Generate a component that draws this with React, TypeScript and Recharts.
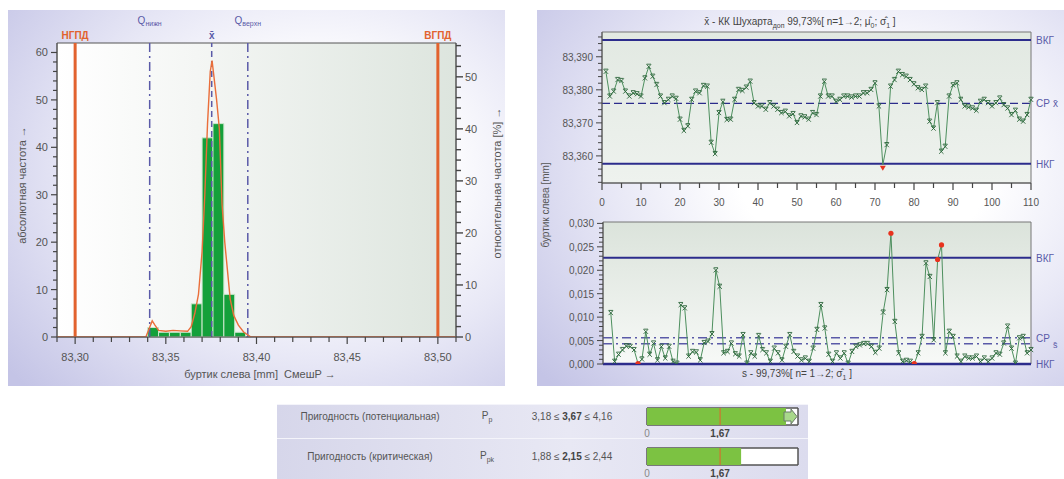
import React from 'react';
import { ComposedChart, LineChart, BarChart, Line, Bar, XAxis, YAxis, ReferenceLine, ReferenceArea } from 'recharts';

const FONT = '"Liberation Sans", Arial, sans-serif';
const TICK = '#555';
const NAVY = '#2c2c8c';
const VIOLET = '#5a5aa8';
const ORANGE = '#e2622e';
const RED = '#e8321e';

// ---- histogram (left panel)
const binStart = [83.340, 83.346, 83.352, 83.358, 83.364, 83.370, 83.376, 83.382, 83.388];
const binEnd = [83.346, 83.352, 83.358, 83.364, 83.370, 83.376, 83.382, 83.388, 83.394];
const binCount = [2, 1, 1, 1, 7, 42, 45, 9, 1];

const densityX = [83.290, 83.339, 83.3405, 83.3425, 83.344, 83.346, 83.350, 83.354, 83.358, 83.362, 83.364, 83.366, 83.368, 83.370, 83.3715, 83.373, 83.3745, 83.3755, 83.3765, 83.378, 83.3795, 83.381, 83.3825, 83.384, 83.3855, 83.3875, 83.390, 83.393, 83.397, 83.510];
const densityY = [0, 0, 1.5, 3.4, 2.5, 1.4, 1.2, 1.4, 1.3, 1.2, 2.2, 5, 9, 18, 30, 45, 56, 58.3, 55, 50, 44, 28, 20, 14, 8, 4.5, 2.5, 1, 0, 0];

const specLow = 83.30;
const specHigh = 83.50;
const qLow = 83.3411;
const qHigh = 83.3952;
const histMean = 83.3753;

const histXTicks = Array.from({ length: 23 }, (_, k) => +(83.29 + k * 0.01).toFixed(2));
const histLeftTicks = Array.from({ length: 31 }, (_, k) => k * 2);
const histRightTicks = Array.from({ length: 29 }, (_, k) => k * 2);

// ---- x-bar chart (top right)
const xbarValues = [
  83.3855, 83.378, 83.3795, 83.383, 83.3827, 83.3795, 83.378, 83.379, 83.3787, 83.378,
  83.3835, 83.387, 83.384, 83.3815, 83.378, 83.376, 83.377, 83.378, 83.3773, 83.371,
  83.3676, 83.369, 83.377, 83.3795, 83.379, 83.3812, 83.381, 83.364, 83.3606, 83.373,
  83.3764, 83.3709, 83.371, 83.377, 83.380, 83.3797, 83.3807, 83.3825, 83.376, 83.375,
  83.375, 83.374, 83.376, 83.375, 83.374, 83.373, 83.3734, 83.372, 83.3727, 83.370,
  83.372, 83.3717, 83.371, 83.373, 83.3724, 83.378, 83.3825, 83.378, 83.378, 83.3764,
  83.377, 83.378, 83.378, 83.3777, 83.378, 83.378, 83.379, 83.379, 83.380, 83.382,
  83.375, 83.3573, 83.3633, 83.381, 83.383, 83.3855, 83.3845, 83.384, 83.383, 83.3817,
  83.3805, 83.380, 83.381, 83.3704, 83.3683, 83.376, 83.3613, 83.3628, 83.378, 83.3814,
  83.382, 83.377, 83.375, 83.3747, 83.3744, 83.3737, 83.3764, 83.377, 83.376, 83.375,
  83.376, 83.3774, 83.3754, 83.3744, 83.3724, 83.3737, 83.371, 83.3704, 83.3724, 83.377,
];
const xbarAlarm = [72];
const xbarUcl = 83.3951;
const xbarCl = 83.3759;
const xbarLcl = 83.3576;

// ---- s chart (bottom right), first value belongs to sample 2
const sValues = [
  0.0109, 0.0005, 0.002, 0.003, 0.0038, 0.0037, 0.003, 0.0001, 0.001, 0.0069,
  0.002, 0.0044, 0.0008, 0.0037, 0.0012, 0.0037, 0.0005, 0.0001, 0.0126, 0.0119,
  0.0016, 0.0026, 0.0025, 0.0008, 0.0045, 0.0048, 0.0064, 0.020, 0.0165, 0.0023,
  0.0026, 0.0044, 0.0021, 0.0016, 0.0062, 0.0001, 0.0023, 0.0016, 0.006, 0.003,
  0.0023, 0.0005, 0.0033, 0.0023, 0.0008, 0.0037, 0.0062, 0.0026, 0.0016, 0.0008,
  0.0012, 0.0005, 0.0033, 0.0073, 0.0126, 0.0076, 0.002, 0.0005, 0.0023, 0.0012,
  0.0023, 0.0001, 0.0026, 0.0037, 0.004, 0.0043, 0.0043, 0.0037, 0.0024, 0.0033,
  0.011, 0.0158, 0.0279, 0.009, 0.0023, 0.0005, 0.0007, 0.0005, 0.0001, 0.0023,
  0.0058, 0.0215, 0.0186, 0.0051, 0.0223, 0.0254, 0.0023, 0.0069, 0.0058, 0.0016,
  0.0005, 0.0016, 0.0012, 0.0012, 0.0016, 0.0005, 0.0012, 0.0005, 0.0012, 0.0023,
  0.002, 0.0044, 0.008, 0.0033, 0.0001, 0.0055, 0.0058, 0.0023, 0.003,
];
const sAlarm = [9, 74, 80, 86, 87];
const sUcl = 0.02266;
const sCl = 0.0056;
const sMid = 0.0043;
const sLcl = 0;

const sampleTicks = Array.from({ length: 23 }, (_, k) => k * 5);
const xbarYTicks = Array.from({ length: 23 }, (_, k) => +(83.352 + k * 0.002).toFixed(3));
const sYTicks = Array.from({ length: 31 }, (_, k) => +(k * 0.001).toFixed(3));

// ---- capability rows
const capNames = ['Пригодность (потенциальная)', 'Пригодность (критическая)'];
const capSymbols = ['p', 'pk'];
const capLow = [3.18, 1.88];
const capValue = [3.67, 2.15];
const capHigh = [4.16, 2.44];
const capTarget = 1.67;
const capMax = 3.45;

const comma = (v: number, d: number) => v.toFixed(d).replace('.', ',');

const histData = densityX.map((x, k) => ({ x, y: densityY[k] }));
const xbarData = xbarValues.map((v, k) => ({ i: k + 1, v }));
const sData = sValues.map((v, k) => ({ i: k + 2, v }));

const HistXTick = ({ x, y, payload }: any) => {
  const major = Math.round(payload.value * 100) % 5 === 0;
  return (
    <g>
      <line x1={x} x2={x} y1={y} y2={y + (major ? 7 : 5)} stroke="#444" strokeWidth={1.2} />
      {major && (
        <text x={x} y={y + 24} textAnchor="middle" fontSize={11} fill={TICK} fontFamily={FONT}>
          {comma(payload.value, 2)}
        </text>
      )}
    </g>
  );
};

const HistLeftTick = ({ x, y, payload }: any) => {
  const major = payload.value % 10 === 0;
  return (
    <g>
      <line x1={x} x2={x - (major ? 6 : 4)} y1={y} y2={y} stroke="#444" strokeWidth={1.2} />
      {major && (
        <text x={x - 9} y={y + 4} textAnchor="end" fontSize={11} fill={TICK} fontFamily={FONT}>
          {payload.value}
        </text>
      )}
    </g>
  );
};

const HistRightTick = ({ x, y, payload }: any) => {
  const major = payload.value % 10 === 0;
  return (
    <g>
      <line x1={x} x2={x + (major ? 7 : 5)} y1={y} y2={y} stroke="#444" strokeWidth={1.4} />
      {major && (
        <text x={x + 9} y={y + 4} textAnchor="start" fontSize={11} fill={TICK} fontFamily={FONT}>
          {payload.value}
        </text>
      )}
    </g>
  );
};

const SampleTick = ({ x, y, payload }: any) => {
  const major = payload.value % 10 === 0;
  return (
    <g>
      <line x1={x} x2={x} y1={y} y2={y + (major ? 7 : 5)} stroke="#444" strokeWidth={1.2} />
      {major && (
        <text x={x} y={y + 23} textAnchor="middle" fontSize={10} fill={TICK} fontFamily={FONT}>
          {payload.value}
        </text>
      )}
    </g>
  );
};

const makeYTick = (step: number) => ({ x, y, payload }: any) => {
  const major = Math.round(payload.value * 1000) % step === 0;
  return (
    <g>
      <line x1={x} x2={x - (major ? 6 : 4)} y1={y} y2={y} stroke="#444" strokeWidth={1} />
      {major && (
        <text x={x - 9} y={y + 4} textAnchor="end" fontSize={10} fill={TICK} fontFamily={FONT}>
          {comma(payload.value, 3)}
        </text>
      )}
    </g>
  );
};
const XbarYTick = makeYTick(10);
const SYTick = makeYTick(5);

const TopLabel = ({ viewBox, text, sub, lift, color, bold }: any) => {
  if (!viewBox) return null;
  return (
    <text x={viewBox.x} y={viewBox.y - lift} textAnchor="middle" fontSize={10} fill={color}
      fontFamily={FONT} fontWeight={bold ? 'bold' : 'normal'}>
      {text}
      {sub && <tspan fontSize={7} dy={2}>{sub}</tspan>}
    </text>
  );
};

const SideLabel = ({ viewBox, text, extra, dy = 0 }: any) => {
  if (!viewBox) return null;
  const x = viewBox.x + viewBox.width + 5;
  const y = viewBox.y + 4 + dy;
  return (
    <text x={x} y={y} fontSize={10} fill={VIOLET} fontFamily={FONT}>
      {text}
      {extra && <tspan dx={3} dy={extra.dy} fontSize={extra.size}>{extra.text}</tspan>}
    </text>
  );
};

const MarkerDot = (alarm: number[], red: 'tri' | 'dot') => (props: any) => {
  const { cx, cy, payload, key } = props;
  if (cx == null || cy == null) return <g key={key} />;
  if (alarm.includes(payload.i)) {
    if (red === 'tri') {
      return <path key={key} d={`M${cx - 3},${cy + 1}L${cx + 3},${cy + 1}L${cx},${cy + 6}Z`} fill={RED} />;
    }
    return <circle key={key} cx={cx} cy={cy} r={2.6} fill={RED} />;
  }
  return (
    <path key={key} d={`M${cx - 2.2},${cy - 2.2}L${cx + 2.2},${cy + 2.2}M${cx - 2.2},${cy + 2.2}L${cx + 2.2},${cy - 2.2}M${cx - 2.2},${cy - 2.5}L${cx + 2.2},${cy - 2.5}`}
      stroke="#2a6439" strokeWidth={0.9} fill="none" />
  );
};
const XbarDot = MarkerDot(xbarAlarm, 'tri');
const SDot = MarkerDot(sAlarm, 'dot');

const CapBarShape = (plotW: number) => (props: any) => {
  const { x, y, width, height, value } = props;
  const v = Array.isArray(value) ? value[1] : value;
  if (v > capMax) {
    const end = x + plotW;
    const head = 14;
    return (
      <g>
        <rect x={x} y={y} width={plotW - head + 2} height={height} fill="#7cc242" />
        <path d={`M${end - head},${y + 4}L${end - 7},${y + 4}L${end - 7},${y + 1}L${end - 1},${y + height / 2}L${end - 7},${y + height - 1}L${end - 7},${y + height - 4}L${end - head},${y + height - 4}Z`}
          fill="#a8d88a" stroke="#6a7a6a" strokeWidth={1} />
      </g>
    );
  }
  return <rect x={x} y={y} width={width} height={height} fill="#7cc242" />;
};

const CapTick = ({ x, y, payload }: any) => (
  <text x={x} y={y + 12} textAnchor="middle" fontSize={10} fill={payload.value === 0 ? '#888' : '#444'}
    fontWeight={payload.value === 0 ? 'normal' : 'bold'} fontFamily={FONT}>
    {payload.value === 0 ? '0' : comma(payload.value, 2)}
  </text>
);

const panelBg = 'radial-gradient(ellipse 80% 85% at 62% 42%, #ffffff 30%, #e8e8f6 60%, #c4c4e6 100%)';

const abs = (left: number, top: number, extra: React.CSSProperties = {}): React.CSSProperties => ({
  position: 'absolute', left, top, ...extra,
});

const textStyle: React.CSSProperties = { fontFamily: FONT, fontSize: 10, color: '#555', whiteSpace: 'nowrap' };
const subStyle: React.CSSProperties = { fontSize: 7 };

const CAP_W = 170;
const CAP_ML = 7;
const CAP_MR = 12;

export default function App() {
  return (
    <div style={{ position: 'absolute', left: 0, top: 0, width: 1064, height: 479, background: '#fff', overflow: 'hidden' }}>
      {/* panels */}
      <div style={abs(8, 10, { width: 497, height: 376, background: panelBg })} />
      <div style={abs(537, 10, { width: 527, height: 376, background: panelBg })} />

      {/* histogram */}
      <div style={abs(0, 0)}>
        <ComposedChart width={505} height={390} data={histData} margin={{ top: 43, right: 9, bottom: 13, left: 8 }}>
          <defs>
            <linearGradient id="histBg" x1="0" y1="0" x2="1" y2="0">
              <stop offset="0%" stopColor="#ffffff" />
              <stop offset="35%" stopColor="#f4f6f4" />
              <stop offset="100%" stopColor="#dde5de" />
            </linearGradient>
          </defs>
          <XAxis type="number" dataKey="x" domain={[83.29, 83.51]} allowDataOverflow ticks={histXTicks}
            interval={0} tick={<HistXTick />} tickLine={false} tickSize={0} tickMargin={0}
            axisLine={{ stroke: '#555' }} height={40} />
          <YAxis yAxisId="l" domain={[0, 62]} allowDataOverflow ticks={histLeftTicks} interval={0}
            tick={<HistLeftTick />} tickLine={false} tickSize={0} tickMargin={0} axisLine={{ stroke: '#555' }} width={49} />
          <YAxis yAxisId="r" orientation="right" domain={[0, 56.5]} allowDataOverflow ticks={histRightTicks} interval={0}
            tick={<HistRightTick />} tickLine={false} tickSize={0} tickMargin={0} axisLine={{ stroke: '#555' }} width={40} />
          <ReferenceArea yAxisId="l" x1={83.29} x2={83.51} y1={0} y2={62} fill="url(#histBg)" fillOpacity={1} stroke="#555" />
          {binCount.map((c, k) => (
            <ReferenceArea key={k} yAxisId="l" x1={binStart[k]} x2={binEnd[k]} y1={0} y2={c}
              fill="#14a03a" fillOpacity={1} stroke="#cfe8cf" strokeWidth={1} />
          ))}
          <ReferenceLine yAxisId="l" x={specLow} stroke={ORANGE} strokeWidth={3}
            label={<TopLabel text="НГПД" lift={4} color={ORANGE} bold />} />
          <ReferenceLine yAxisId="l" x={specHigh} stroke={ORANGE} strokeWidth={3}
            label={<TopLabel text="ВГПД" lift={4} color={ORANGE} bold />} />
          <ReferenceLine yAxisId="l" x={qLow} stroke={VIOLET} strokeWidth={1.5} strokeDasharray="9 4 2 4"
            label={<TopLabel text="Q" sub="нижн" lift={19} color={VIOLET} />} />
          <ReferenceLine yAxisId="l" x={qHigh} stroke={VIOLET} strokeWidth={1.5} strokeDasharray="9 4 2 4"
            label={<TopLabel text="Q" sub="верхн" lift={19} color={VIOLET} />} />
          <ReferenceLine yAxisId="l" x={histMean} stroke={VIOLET} strokeWidth={1.5} strokeDasharray="6 4"
            label={<TopLabel text={'x\u0304'} lift={4} color={VIOLET} bold />} />
          <Line yAxisId="l" dataKey="y" type="linear" stroke="#ea6e3a" strokeWidth={1.4} dot={false} isAnimationActive={false} />
        </ComposedChart>
      </div>
      <div style={abs(22, 185, { ...textStyle, fontSize: 11, transform: 'translate(-50%,-50%) rotate(-90deg)' })}>
        абсолютная частота →
      </div>
      <div style={abs(497, 183, { ...textStyle, fontSize: 11, transform: 'translate(-50%,-50%) rotate(-90deg)' })}>
        относительная частота [%] →
      </div>
      <div style={abs(260, 374, { ...textStyle, fontSize: 11, transform: 'translate(-50%,-50%)' })}>
        буртик слева [mm]&nbsp;&nbsp;СмешP →
      </div>

      {/* x-bar chart */}
      <div style={abs(800, 22, { ...textStyle, color: '#444', transform: 'translate(-50%,-50%)' })}>
        {'x\u0304'} - КК Шухарта<sub style={subStyle}>доп</sub> 99,73%[ n=1→2; {'μ\u0302'}<sub style={subStyle}>0</sub>; {'σ\u0302'}<sub style={subStyle}>1</sub> ]
      </div>
      <div style={abs(537, 0)}>
        <LineChart width={527} height={215} data={xbarData} margin={{ top: 32, right: 33, bottom: 2, left: 5 }}>
          <defs>
            <linearGradient id="xbarBg" x1="0" y1="0" x2="0" y2="1">
              <stop offset="0%" stopColor="#e2e9e2" />
              <stop offset="100%" stopColor="#eef2ee" />
            </linearGradient>
          </defs>
          <XAxis type="number" dataKey="i" domain={[0, 110]} ticks={sampleTicks} interval={0} tick={<SampleTick />}
            tickLine={false} tickSize={0} tickMargin={0} axisLine={{ stroke: '#555' }} height={30} />
          <YAxis domain={[83.3518, 83.3975]} allowDataOverflow ticks={xbarYTicks} interval={0} tick={<XbarYTick />}
            tickLine={false} tickSize={0} tickMargin={0} axisLine={{ stroke: '#555' }} width={60} />
          <ReferenceArea x1={0} x2={110} y1={83.3518} y2={83.3975} fill="url(#xbarBg)" fillOpacity={1} stroke="#777" />
          <ReferenceLine y={xbarUcl} stroke={NAVY} strokeWidth={2} label={<SideLabel text="ВКГ" />} />
          <ReferenceLine y={xbarCl} stroke={NAVY} strokeWidth={1.3} strokeDasharray="8 4"
            label={<SideLabel text="CP" extra={{ text: 'x\u0304', dy: 0, size: 10 }} />} />
          <ReferenceLine y={xbarLcl} stroke={NAVY} strokeWidth={2} label={<SideLabel text="НКГ" />} />
          <Line dataKey="v" type="linear" stroke="#4d8f5e" strokeWidth={1} dot={XbarDot} isAnimationActive={false} />
        </LineChart>
      </div>
      <div style={abs(545, 205, { ...textStyle, transform: 'translate(-50%,-50%) rotate(-90deg)' })}>
        буртик слева [mm]
      </div>

      {/* s chart */}
      <div style={abs(537, 215)}>
        <LineChart width={527} height={160} data={sData} margin={{ top: 7, right: 33, bottom: 11, left: 5 }}>
          <defs>
            <linearGradient id="sBg" x1="0" y1="0" x2="0" y2="1">
              <stop offset="0%" stopColor="#dbe3db" />
              <stop offset="100%" stopColor="#f7f9f7" />
            </linearGradient>
          </defs>
          <XAxis type="number" dataKey="i" domain={[0, 110]} hide />
          <YAxis domain={[0, 0.0303]} allowDataOverflow ticks={sYTicks} interval={0} tick={<SYTick />}
            tickLine={false} tickSize={0} tickMargin={0} axisLine={{ stroke: '#555' }} width={61} />
          <ReferenceArea x1={0} x2={110} y1={0} y2={0.0303} fill="url(#sBg)" fillOpacity={1} stroke="#777" />
          <ReferenceLine y={sUcl} stroke={NAVY} strokeWidth={2} label={<SideLabel text="ВКГ" />} />
          <ReferenceLine y={sCl} stroke={VIOLET} strokeWidth={1.5} strokeDasharray="9 4 2 4"
            label={<SideLabel text="CP" extra={{ text: 's\u0304', dy: 6, size: 9 }} />} />
          <ReferenceLine y={sMid} stroke={VIOLET} strokeWidth={1.5} strokeDasharray="9 4 2 4" />
          <ReferenceLine y={sLcl} stroke={NAVY} strokeWidth={2.5} label={<SideLabel text="НКГ" />} />
          <Line dataKey="v" type="linear" stroke="#4d8f5e" strokeWidth={1} dot={SDot} isAnimationActive={false} />
        </LineChart>
      </div>
      <div style={abs(797, 374, { ...textStyle, color: '#444', transform: 'translate(-50%,-50%)' })}>
        s - 99,73%[ n= 1→2; {'σ\u0302'}<sub style={subStyle}>1</sub> ]
      </div>

      {/* capability rows */}
      {capNames.map((name, k) => {
        const top = k === 0 ? 404 : 438;
        const h = k === 0 ? 33 : 41;
        const mid = k === 0 ? 416 : 456;
        return (
          <React.Fragment key={k}>
            <div style={abs(277, top, { width: 531, height: h, background: 'linear-gradient(to right, #d6d6ea 0%, #e8e8f4 55%, #dcdcee 100%)', borderTop: '1px solid #f4f4fa' })} />
            <div style={abs(370, mid, { ...textStyle, transform: 'translate(-50%,-50%)' })}>{name}</div>
            <div style={abs(487, mid, { ...textStyle, transform: 'translate(-50%,-50%)' })}>
              P<sub style={subStyle}>{capSymbols[k]}</sub>
            </div>
            <div style={abs(572, mid, { ...textStyle, transform: 'translate(-50%,-50%)' })}>
              {comma(capLow[k], 2)} ≤ <b style={{ color: '#444' }}>{comma(capValue[k], 2)}</b> ≤ {comma(capHigh[k], 2)}
            </div>
            <div style={abs(640, k === 0 ? 404 : 444)}>
              <BarChart width={CAP_W} height={36} layout="vertical" data={[{ name, v: capValue[k] }]}
                margin={{ top: 4, right: CAP_MR, bottom: 0, left: CAP_ML }} barCategoryGap={0}>
                <XAxis type="number" domain={[0, capMax]} allowDataOverflow ticks={[0, capTarget]} tick={<CapTick />}
                  tickLine={false} tickSize={0} tickMargin={0} axisLine={false} height={15} />
                <YAxis type="category" dataKey="name" hide />
                <ReferenceArea x1={0} x2={capMax} fill="#ffffff" fillOpacity={1} stroke="#555" />
                <Bar dataKey="v" isAnimationActive={false} shape={CapBarShape(CAP_W - CAP_ML - CAP_MR)} />
                <ReferenceArea x1={0} x2={capMax} fill="none" stroke="#555" />
                <ReferenceLine x={capTarget} stroke={ORANGE} strokeWidth={1} />
              </BarChart>
            </div>
          </React.Fragment>
        );
      })}
    </div>
  );
}
